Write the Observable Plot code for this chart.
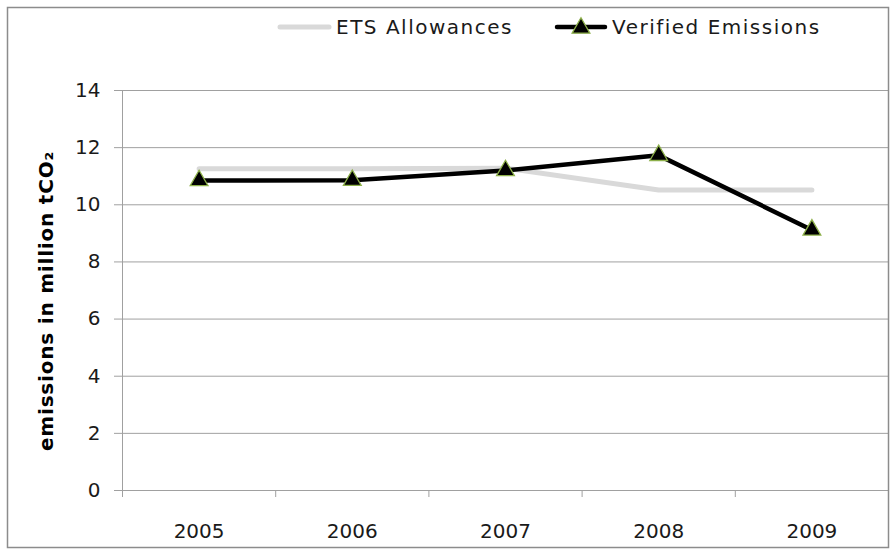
<!DOCTYPE html>
<html>
<head>
<meta charset="utf-8">
<script src="https://cdn.jsdelivr.net/npm/d3@7"></script>
<script src="https://cdn.jsdelivr.net/npm/@observablehq/plot@0.6"></script>
<style>
  html, body { margin: 0; padding: 0; background: #fff; }
</style>
</head>
<body>
<div id="chart"></div>
<script>
const years = [2005, 2006, 2007, 2008, 2009];
const allowances = [11.26, 11.26, 11.28, 10.52, 10.52];
const verified = [10.85, 10.86, 11.2, 11.73, 9.12];
const yTicks = [0, 2, 4, 6, 8, 10, 12, 14];
const yearBounds = [2004.5, 2005.5, 2006.5, 2007.5, 2008.5, 2009.5];
const seriesNames = ["ETS Allowances", "Verified Emissions"];
const yTitle = "emissions in million tCO₂";

const data = years.map((year, i) => ({year, allowance: allowances[i], verified: verified[i]}));

const grid = "#a0a0a0";
const font = "DejaVu Sans";

const svg = Plot.plot({
  width: 896,
  height: 553,
  marginLeft: 122,
  marginRight: 8,
  marginTop: 90,
  marginBottom: 63,
  style: {fontFamily: font, fontSize: "20px", color: "#1a1a1a", background: "white", overflow: "visible"},
  x: {type: "linear", domain: [2004.5, 2009.5], label: null},
  y: {domain: [0, 14], label: null},
  marks: [
    Plot.gridY(yTicks.filter(d => d > 0), {stroke: grid, strokeOpacity: 1, strokeWidth: 1}),
    Plot.axisY({ticks: yTicks, tickSize: 8, tickPadding: 14, stroke: grid, strokeOpacity: 1, label: null, tickFormat: d => String(d)}),
    Plot.ruleX([2004.5], {y1: 0, y2: 14, stroke: grid, strokeWidth: 1}),
    Plot.ruleY([0], {stroke: grid, strokeWidth: 1}),
    Plot.axisX({ticks: yearBounds, tickSize: 7, stroke: grid, strokeOpacity: 1, tickFormat: () => "", label: null}),
    Plot.axisX({ticks: years, tickSize: 0, tickPadding: 33, tickFormat: d => String(d), label: null}),
    Plot.line(data, {x: "year", y: "allowance", stroke: "#d9d9d9", strokeWidth: 5, strokeLinecap: "round", strokeLinejoin: "round"}),
    Plot.line(data, {x: "year", y: "verified", stroke: "#000", strokeWidth: 4.5, strokeLinejoin: "round"}),
    Plot.dot(data, {x: "year", y: "verified", symbol: "triangle", r: 6.6, fill: "#000", stroke: "#8db04a", strokeWidth: 1.3})
  ]
});

const s = d3.select(svg);
// outer chart border
s.append("rect")
  .attr("x", 7.5).attr("y", 7.5)
  .attr("width", 881).attr("height", 540)
  .attr("fill", "none").attr("stroke", "#8c8c8c").attr("stroke-width", 1.5);

// y axis title
s.append("text")
  .attr("transform", "translate(53,301) rotate(-90)")
  .attr("text-anchor", "middle")
  .attr("font-family", font)
  .attr("font-weight", "bold")
  .attr("font-size", 20)
  .attr("letter-spacing", "0.8px")
  .attr("fill", "#000")
  .text(yTitle);

// legend
const lg = s.append("g").attr("font-family", font).attr("font-size", 20).attr("fill", "#1a1a1a")
  .attr("letter-spacing", "1.5px").attr("text-anchor", "start");
lg.append("line").attr("x1", 280).attr("x2", 329).attr("y1", 27).attr("y2", 27)
  .attr("stroke", "#d9d9d9").attr("stroke-width", 5).attr("stroke-linecap", "round");
lg.append("text").attr("x", 336).attr("y", 34).attr("text-anchor", "start").text(seriesNames[0]);
lg.append("line").attr("x1", 557).attr("x2", 605).attr("y1", 27).attr("y2", 27)
  .attr("stroke", "#000").attr("stroke-width", 4.5).attr("stroke-linecap", "round");
lg.append("path").attr("transform", "translate(581,28)")
  .attr("d", d3.symbol(d3.symbolTriangle, Math.PI * 6.6 * 6.6)())
  .attr("fill", "#000").attr("stroke", "#8db04a").attr("stroke-width", 1.3);
lg.append("text").attr("x", 612).attr("y", 34).attr("text-anchor", "start").text(seriesNames[1]);

document.getElementById("chart").appendChild(svg);
</script>
</body>
</html>
